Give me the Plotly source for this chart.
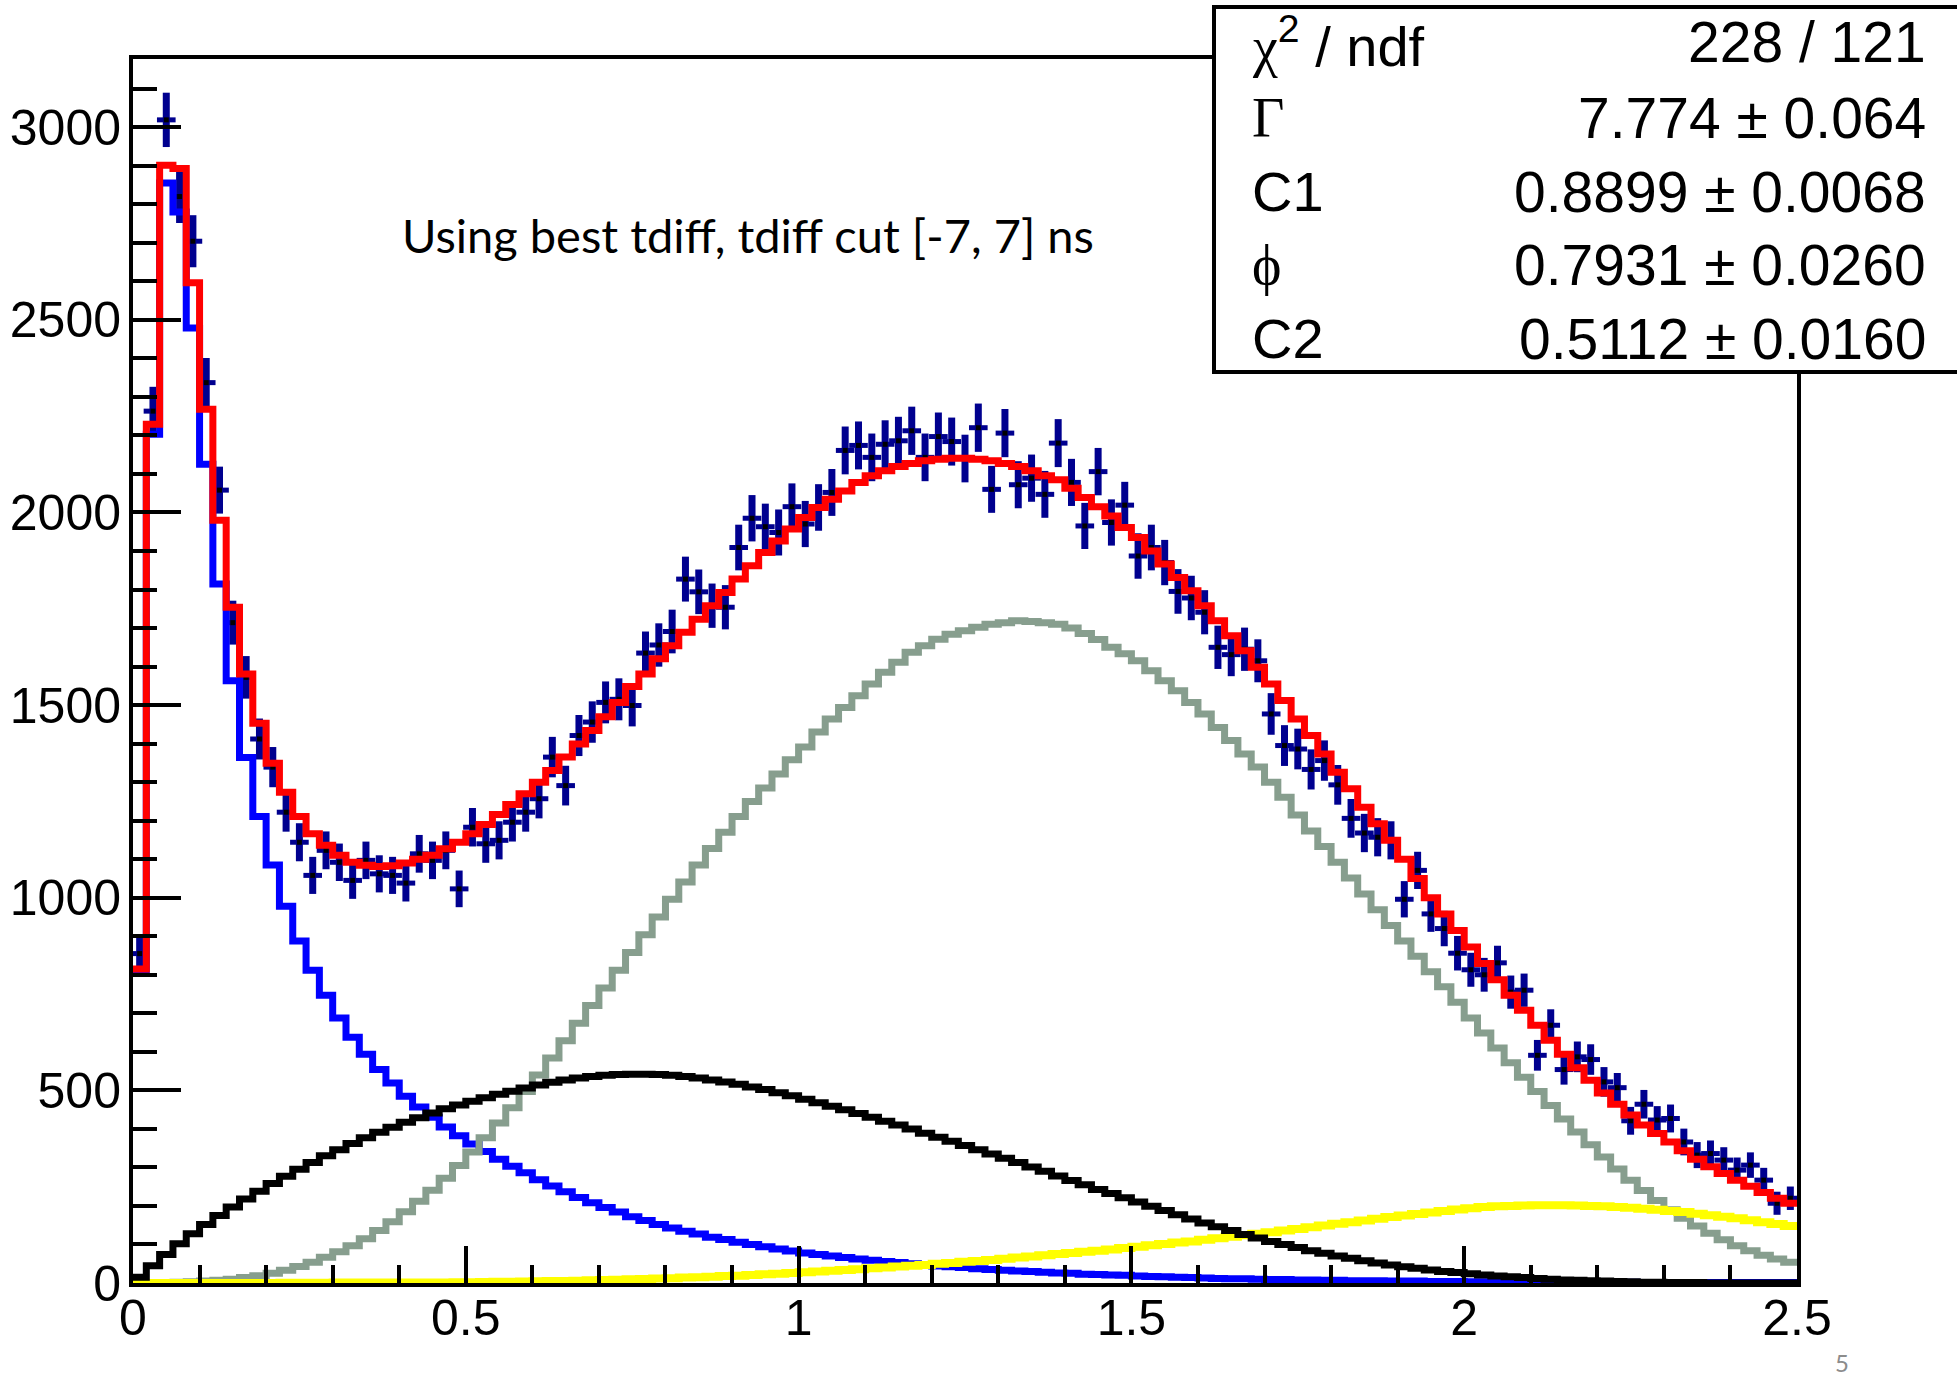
import numpy as np
import plotly.graph_objects as go

# ---------------- data ----------------
bin_width = 0.02
n_bins = 125

data_counts = [855, 2263, 3019, 2820, 2704, 2337, 2058, 1714, 1572, 1412,
               1339, 1222, 1144, 1058, 1123, 1092, 1045, 1097, 1062, 1058,
               1038, 1114, 1097, 1123, 1023, 1183, 1140, 1149, 1196, 1222,
               1257, 1365, 1291, 1421, 1456, 1507, 1515, 1499, 1635, 1656,
               1691, 1827, 1794, 1758, 1754, 1909, 1985, 1963, 1948, 2015,
               1970, 2013, 2052, 2161, 2174, 2143, 2177, 2186, 2212, 2143,
               2197, 2184, 2140, 2220, 2060, 2206, 2072, 2089, 2047, 2180,
               2078, 1965, 2106, 1974, 2019, 1887, 1909, 1870, 1795, 1778,
               1741, 1650, 1631, 1645, 1615, 1477, 1395, 1386, 1333, 1356,
               1293, 1206, 1168, 1157, 1149, 996, 1071, 958, 920, 856,
               813, 800, 831, 755, 760, 591, 669, 554, 587, 580,
               522, 507, 421, 464, 423, 427, 366, 332, 336, 319,
               293, 306, 267, 207, 220]

fit_total = [815, 2229, 2901, 2893, 2596, 2268, 1980, 1754, 1581, 1453,
             1349, 1274, 1211, 1166, 1136, 1110, 1092, 1084, 1081, 1083,
             1090, 1100, 1110, 1127, 1144, 1166, 1190, 1216, 1242, 1270,
             1300, 1330, 1365, 1399, 1434, 1470, 1507, 1548, 1581, 1620,
             1654, 1689, 1723, 1758, 1792, 1827, 1862, 1896, 1926, 1957,
             1987, 2013, 2034, 2056, 2078, 2095, 2108, 2119, 2127, 2134,
             2138, 2141, 2141, 2138, 2134, 2127, 2119, 2108, 2095, 2085,
             2063, 2039, 2015, 1991, 1961, 1935, 1900, 1866, 1831, 1797,
             1758, 1719, 1680, 1641, 1598, 1555, 1512, 1464, 1421, 1373,
             1326, 1283, 1235, 1192, 1149, 1100, 1050, 1000, 958, 915,
             872, 829, 787, 747, 708, 669, 630, 594, 559, 526,
             493, 464, 436, 410, 388, 366, 343, 321, 302, 284,
             267, 251, 235, 220, 207]

comp_blue = [805, 2203, 2855, 2780, 2479, 2125, 1814, 1563, 1364, 1211,
             1085, 978, 888, 812, 747, 688, 638, 594, 554, 519,
             485, 457, 430, 405, 382, 361, 341, 321, 303, 286,
             268, 252, 237, 222, 208, 196, 184, 172, 162, 152,
             143, 134, 127, 119, 113, 106, 100, 94, 88, 83,
             78, 74, 70, 66, 62, 59, 56, 53, 50, 47,
             44, 42, 40, 37, 35, 33, 31, 30, 28, 26,
             25, 23, 22, 21, 20, 18, 17, 16, 15, 14,
             13, 12, 11, 11, 10, 9, 9, 8, 8, 7,
             7, 6, 6, 6, 5, 5, 5, 4, 4, 4,
             3, 3, 3, 3, 3, 2, 2, 2, 2, 2,
             2, 2, 2, 1, 1, 1, 1, 1, 1, 1,
             1, 1, 1, 1, 1]

comp_gray = [0, 0.5, 1, 2, 3, 5, 7, 10, 14, 19,
             25, 33, 43, 54, 67, 81, 97, 115, 136, 159,
             185, 212, 241, 272, 305, 340, 377, 415, 455, 497,
             540, 584, 629, 674, 720, 766, 812, 858, 904, 950,
             996, 1041, 1085, 1128, 1170, 1211, 1250, 1285, 1321, 1358,
             1391, 1430, 1464, 1494, 1524, 1555, 1585, 1611, 1637, 1654,
             1671, 1684, 1693, 1702, 1710, 1714, 1719, 1717, 1714, 1710,
             1700, 1686, 1670, 1650, 1633, 1615, 1589, 1563, 1537, 1507,
             1477, 1442, 1408, 1373, 1339, 1300, 1261, 1215, 1173, 1133,
             1092, 1051, 1010, 969, 928, 888, 848, 808, 769, 729,
             688, 649, 610, 572, 534, 497, 461, 426, 392, 359,
             327, 296, 267, 240, 214, 190, 168, 148, 129, 112,
             97, 84, 72, 62, 54]

comp_black = [15, 45, 74, 102, 128, 152, 175, 197, 218, 238,
              258, 277, 295, 313, 330, 346, 362, 377, 391, 404,
              417, 429, 441, 452, 462, 472, 481, 490, 498, 506,
              514, 521, 527, 532, 536, 539, 541, 542, 542, 541,
              539, 536, 532, 527, 522, 516, 509, 502, 494, 486,
              477, 468, 459, 450, 440, 430, 420, 410, 400, 389,
              378, 368, 357, 346, 335, 324, 313, 301, 290, 278,
              266, 255, 243, 232, 221, 210, 199, 188, 177, 166,
              156, 146, 136, 126, 117, 108, 100, 92, 84, 77,
              70, 64, 58, 52, 47, 42, 38, 34, 30, 27,
              24, 21, 18, 16, 14, 12, 10, 8, 7, 6,
              5, 4, 3, 2, 2, 1, 1, 1, 0, 0,
              0, 0, 0, 0, 0]

comp_yellow = [0, 0, 0, 0, 0, 0, 0, 0, 0, 0,
               0, 0.5, 0.5, 0.5, 0.5, 1, 1, 1, 1, 1,
               1, 1, 1.5, 1.5, 2, 2, 2.5, 3, 3.5, 4,
               4.5, 5, 5.5, 6, 7, 7.5, 8.5, 9.5, 10.5, 11.5,
               12.5, 14, 15, 16.5, 18, 19, 21, 22.5, 24, 26,
               28, 30, 32, 34, 36, 38, 40, 43, 45, 47,
               50, 52, 55, 57, 60, 63, 66, 69, 72, 75,
               78, 81, 84, 87, 91, 94, 98, 101, 105, 108,
               112, 116, 120, 124, 128, 132, 136, 140, 145, 149,
               154, 158, 162, 167, 171, 175, 179, 183, 187, 191,
               194, 197, 199, 200, 201, 202, 202, 202, 201, 200,
               199, 197, 195, 193, 190, 187, 184, 180, 176, 172,
               168, 163, 158, 153, 148]

x_ticks = [0, 0.5, 1, 1.5, 2, 2.5]
x_tick_labels = ["0", "0.5", "1", "1.5", "2", "2.5"]
y_ticks = [0, 500, 1000, 1500, 2000, 2500, 3000]
y_tick_labels = ["0", "500", "1000", "1500", "2000", "2500", "3000"]

SERIF = "font-family:'Liberation Serif','DejaVu Serif',serif"
stat_names = ["<span style=\"%s\">χ</span><sup>2</sup> / ndf" % SERIF,
              "<span style=\"%s\">Γ</span>" % SERIF,
              "C1",
              "<span style=\"%s\">ϕ</span>" % SERIF,
              "C2"]
stat_values = ["228 / 121", "7.774 ± 0.064", "0.8899 ± 0.0068",
               "0.7931 ± 0.0260", "0.5112 ± 0.0160"]

note_text = "Using best tdiff, tdiff cut [-7, 7] ns"
page_number = "5"

# ---------------- derived positions ----------------
edges = np.arange(n_bins + 1) * bin_width
centers = (np.arange(n_bins) + 0.5) * bin_width
counts = np.array(data_counts, dtype=float)
# statistical error; a small pixel pad emulates ROOT's thick line caps
px_per_unit = 1224 / 3177.0
cap_pad = 6 / px_per_unit
errors = np.sqrt(counts) + cap_pad


def step_y(vals):
    return list(vals) + [vals[-1]]


fig = go.Figure()

# data points with error bars
fig.add_trace(go.Scatter(
    x=centers, y=counts, mode="markers",
    marker=dict(symbol="square", size=5, color="black"),
    error_y=dict(type="data", array=errors, thickness=7, width=0, color="#00008f"),
    error_x=dict(type="constant", value=0.014, thickness=5, width=0, color="#00008f"),
    hoverinfo="skip", showlegend=False))

curves = [
    (comp_blue, "#0000ff", 7),
    (comp_gray, "#879e8e", 7),
    (comp_yellow, "#ffff00", 8),
    (comp_black, "#000000", 7),
    (fit_total, "#ff0000", 7),
]
for vals, col, w in curves:
    fig.add_trace(go.Scatter(
        x=edges, y=step_y(vals), mode="lines", line_shape="hv",
        line=dict(color=col, width=w), hoverinfo="skip", showlegend=False))

# ---------------- layout ----------------
L, R, T, B = 133, 1797, 59, 1283
W, H = R - L, B - T


def px(xp):
    return (xp - L) / W


def py(yp):
    return (B - yp) / H


fig.update_layout(
    width=1957, height=1378,
    margin=dict(l=L, r=1957 - R, t=T, b=1378 - B, pad=0, autoexpand=False),
    paper_bgcolor="white", plot_bgcolor="white",
    showlegend=False,
    font=dict(family="Liberation Sans, Arial, sans-serif", color="black"),
)

fig.update_xaxes(
    range=[0, 2.5], showgrid=False, zeroline=False, automargin=False,
    showline=True, linecolor="black", linewidth=4, mirror=True,
    ticks="inside", ticklen=37, tickwidth=4, tickcolor="black",
    tickvals=x_ticks, ticktext=x_tick_labels,
    tickfont=dict(size=50, family="Liberation Sans, Arial, sans-serif"),
    minor=dict(ticks="inside", ticklen=18, tickwidth=4, tickcolor="black", dtick=0.1, showgrid=False),
    ticklabelstandoff=-12,
)
fig.update_yaxes(
    range=[0, 3177], showgrid=False, zeroline=False, automargin=False,
    showline=True, linecolor="black", linewidth=4, mirror=True,
    ticks="inside", ticklen=48, tickwidth=4, tickcolor="black",
    tickvals=y_ticks, ticktext=y_tick_labels,
    tickfont=dict(size=50, family="Liberation Sans, Arial, sans-serif"),
    minor=dict(ticks="inside", ticklen=24, tickwidth=4, tickcolor="black", dtick=100, showgrid=False),
    ticklabelstandoff=-2,
)

# stats box
fig.add_shape(type="rect", xref="paper", yref="paper",
              x0=px(1214), x1=px(1970), y0=py(372), y1=py(7),
              line=dict(color="black", width=4), fillcolor="white", layer="above")

row_y = [42, 118, 192, 265, 339]
for name, val, yy in zip(stat_names, stat_values, row_y):
    fig.add_annotation(xref="paper", yref="paper", x=px(1250), y=py(yy),
                       text=name, showarrow=False, xanchor="left", yanchor="middle",
                       font=dict(size=56, family="Liberation Sans, Arial, sans-serif"))
    fig.add_annotation(xref="paper", yref="paper", x=px(1928), y=py(yy),
                       text=val, showarrow=False, xanchor="right", yanchor="middle",
                       font=dict(size=57, family="Liberation Sans, Arial, sans-serif"))

fig.add_annotation(xref="paper", yref="paper", x=px(748), y=py(235),
                   text=note_text, showarrow=False, xanchor="center", yanchor="middle",
                   font=dict(size=47, family="Lato, Open Sans, sans-serif", color="black"))

fig.add_annotation(xref="paper", yref="paper", x=px(1842), y=py(1362),
                   text=page_number, showarrow=False, xanchor="center", yanchor="middle",
                   font=dict(size=24, family="Lato, sans-serif", color="#8c8c8c"))

fig.write_html("out.html")
